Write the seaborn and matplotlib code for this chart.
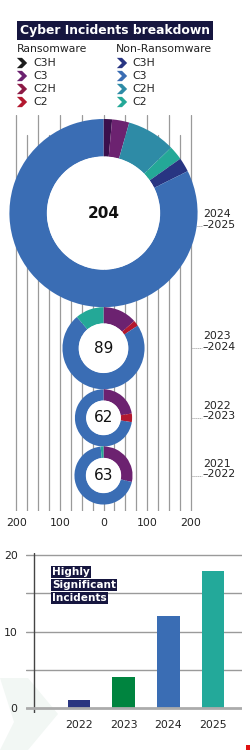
import numpy as np
import matplotlib
matplotlib.use("Agg")
import matplotlib.pyplot as plt
import seaborn as sns
from matplotlib.path import Path
from matplotlib.patches import Circle, Polygon

sns.set_theme(style="white")
plt.rcParams['font.family'] = ['DejaVu Sans']

# ---------------- data ----------------
periods = ["2024\n–2025", "2023\n–2024", "2022\n–2023", "2021\n–2022"]
totals = [204, 89, 62, 63]

# segments of each donut, clockwise from 12 o'clock
keys_2425 = ["R-C3H", "R-C3", "N-C2H", "N-C2", "N-C3H", "N-C3"]
vals_2425 = [3, 6, 17, 5, 5, 168]
keys_2324 = ["R-C3", "R-C2", "N-C3", "N-C2"]
vals_2324 = [12, 2, 65, 10]
keys_2223 = ["R-C3", "R-C2", "N-C3"]
vals_2223 = [14, 3, 45]
keys_2122 = ["R-C3", "N-C3", "N-C2"]
vals_2122 = [18, 44, 1]

legend_levels = ["C3H", "C3", "C2H", "C2"]
axis_ticks = [-200, -100, 0, 100, 200]

hsi_years = ["2022", "2023", "2024", "2025"]
hsi_values = [1, 4, 12, 18]
hsi_title = ["Highly", "Significant", "Incidents"]

# ---------------- styles ----------------
seg_colors = {
    "R-C3H": "#3b104c", "R-C3": "#6c2270", "R-C2H": "#8c1a45", "R-C2": "#b3182f",
    "N-C3H": "#283582", "N-C3": "#3a6db4", "N-C2H": "#2e8ba6", "N-C2": "#24a897",
}
legend_colors_r = ["#1c1c1c", "#6c2270", "#8c1a45", "#b3182f"]
legend_colors_n = ["#283582", "#3a6db4", "#2e8ba6", "#24a897"]
hsi_colors = ["#2a3580", "#00843f", "#3a6db4", "#23a99a"]
navy = "#16163f"
txt = "#222222"

W, H = 250, 750
fig = plt.figure(figsize=(W / 100, H / 100), dpi=100)
fig.patch.set_facecolor("white")


def ax_px(l, t, r, b, **kw):
    return fig.add_axes([l / W, 1 - b / H, (r - l) / W, (b - t) / H], **kw)


# background layer (pixel coordinates)
bg = ax_px(0, 0, W, H, zorder=0)
bg.set_xlim(0, W)
bg.set_ylim(H, 0)
bg.axis("off")
bg.add_patch(Polygon([(0, 678), (28, 678), (58, 714), (28, 750), (0, 750), (14, 722)],
                     closed=True, fc="#f2f7f4", ec="none"))
bg.add_patch(Polygon([(246, 745), (250, 745), (250, 750), (246, 750)], fc="#e01010", ec="none"))

# title
bg.text(20, 30.5, "Cyber Incidents breakdown", color="white", fontsize=8.9, fontweight="bold",
        va="center", ha="left",
        bbox=dict(boxstyle="square,pad=0.25", fc=navy, ec="none"))

# legend
chev = Path([(-0.5, 0.5), (0.0, 0.5), (0.5, 0.0), (0.0, -0.5), (-0.5, -0.5), (0.0, 0.0), (-0.5, 0.5)],
            [Path.MOVETO] + [Path.LINETO] * 5 + [Path.CLOSEPOLY])
bg.text(17, 49, "Ransomware", color=txt, fontsize=7.8, va="center", ha="left")
bg.text(116, 49, "Non-Ransomware", color=txt, fontsize=7.8, va="center", ha="left")
row_y = [63, 76, 89, 102]
bg.scatter([22] * 4, row_y, marker=chev, s=55, c=legend_colors_r, linewidths=0)
bg.scatter([122] * 4, row_y, marker=chev, s=55, c=legend_colors_n, linewidths=0)
for yy, lab in zip(row_y, legend_levels):
    bg.text(33, yy, lab, color=txt, fontsize=7.8, va="center", ha="left")
    bg.text(132, yy, lab, color=txt, fontsize=7.8, va="center", ha="left")

# ---------------- donut panel ----------------
L, T, R, B = 12, 115, 195, 511
ax = ax_px(L, T, R, B, zorder=1)
ax.set_facecolor("none")
xhalf = 210.3
scale = (R - L) / (2 * xhalf)           # px per unit
ybot = -(B - T) / scale

for g in range(-200, 201, 25):
    major = g % 50 == 0
    ax.axvline(g, ymin=0, ymax=1 if major else 0.95, color="#9a9a9a", lw=0.9, zorder=0)

rad_k = 1.06
all_keys = [keys_2425, keys_2324, keys_2223, keys_2122]
all_vals = [vals_2425, vals_2324, vals_2223, vals_2122]
top = -9.2
centers = []
for tot, keys, vals in zip(totals, all_keys, all_vals):
    r = tot * rad_k
    cy = top - r
    centers.append(cy)
    top = cy - r
    ax.pie(vals, colors=[seg_colors[k] for k in keys], radius=r, center=(0, cy),
           startangle=90, counterclock=False, frame=True,
           wedgeprops=dict(width=0.4 * r, linewidth=0))
    ax.add_patch(Circle((0, cy), 0.6 * r + 0.5, fc="white", ec="none", zorder=3))

for i, (tot, cy, per) in enumerate(zip(totals, centers, periods)):
    ax.text(0, cy, str(tot), ha="center", va="center", fontsize=11,
            fontweight="bold" if i == 0 else "normal", color="#111111", zorder=5)
    second = cy - (13 / scale if i == 0 else 0)
    ax.text(228.5, second + 6.6 / scale, per, ha="left", va="center", fontsize=7.8,
            color=txt, linespacing=1.05, clip_on=False)
    x0 = 214 if i == 0 else 203
    ax.plot([x0, 226], [second, second], color="#999999", lw=0.7, ls=(0, (1, 1)),
            clip_on=False)

ax.set_aspect("auto")
ax.set_xlim(-xhalf, xhalf)
ax.set_ylim(ybot, 0)
ax.set_xticks(axis_ticks)
ax.set_xticklabels([str(abs(t)) for t in axis_ticks], fontsize=7.8, color=txt)
ax.set_yticks([])
ax.tick_params(axis="x", length=0, pad=5)
for s in ax.spines.values():
    s.set_visible(False)

# ---------------- bar panel ----------------
bx = ax_px(26, 553, 242, 713, zorder=1)
bx.set_facecolor("none")
sns.barplot(x=hsi_years, y=hsi_values, hue=hsi_years, palette=hsi_colors, legend=False,
            width=0.5, saturation=1, ax=bx, zorder=3, linewidth=0)
bx.set_xlim(-1.186, 3.649)
bx.set_ylim(-0.65, 20.3)
for g in [5, 10, 15, 20]:
    bx.axhline(g, color="#9a9a9a", lw=1.0, zorder=1)
bx.axhline(0, color="#ababab", lw=2.0, zorder=4)
bx.axvline(-1.0, color="#444444", lw=1.0, zorder=2)
bx.set_yticks([0, 10, 20])
bx.set_yticklabels(["0", "10", "20"], fontsize=7.8, color=txt)
bx.tick_params(axis="y", length=0, pad=6)
bx.tick_params(axis="x", length=0, pad=5, labelsize=7.8, labelcolor=txt)
bx.set_xlabel("")
bx.set_ylabel("")
for s in bx.spines.values():
    s.set_visible(False)

# overlay for the bar-panel label
top_layer = ax_px(0, 0, W, H, zorder=5)
top_layer.set_xlim(0, W)
top_layer.set_ylim(H, 0)
top_layer.axis("off")
for yy, line in zip([572, 585, 598], hsi_title):
    top_layer.text(52, yy, line, color="white", fontsize=7.6, fontweight="bold", va="center",
                   ha="left", bbox=dict(boxstyle="square,pad=0.12", fc=navy, ec="none"))

fig.savefig("out.png", dpi=100, facecolor="white")
